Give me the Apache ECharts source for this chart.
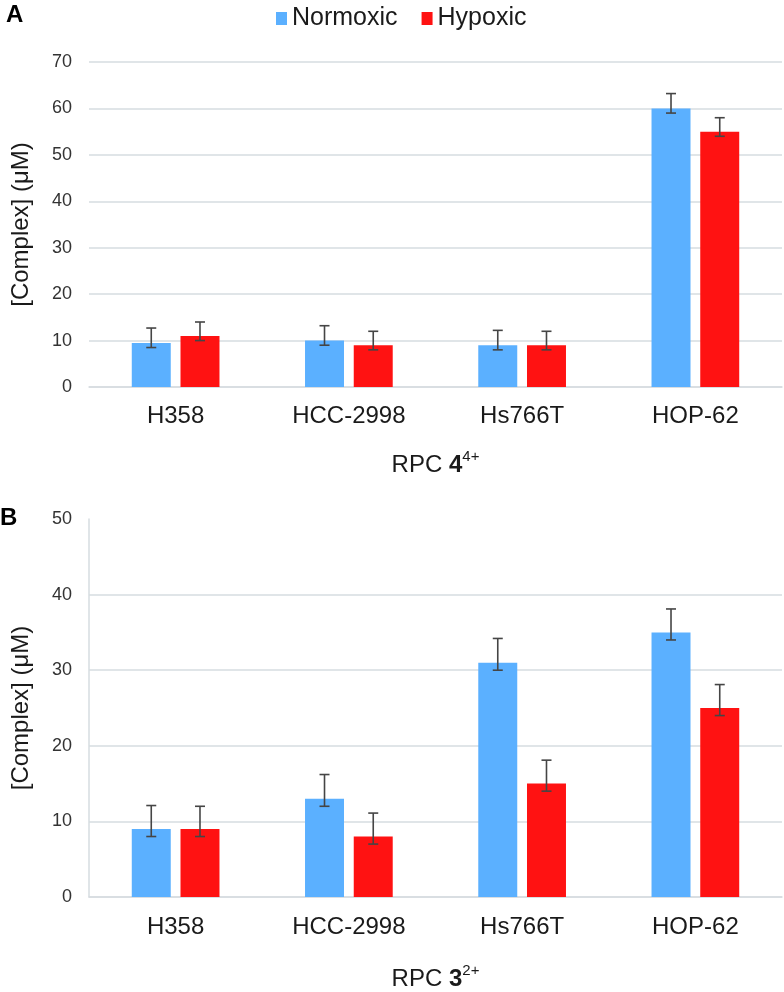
<!DOCTYPE html>
<html>
<head>
<meta charset="utf-8">
<script src="https://cdn.jsdelivr.net/npm/echarts@6/dist/echarts.min.js"></script>
<style>html,body{margin:0;padding:0;background:#fff;}#c{width:784px;height:992px;}</style>
</head>
<body>
<div id="c"></div>
<script>
const categories = ['H358', 'HCC-2998', 'Hs766T', 'HOP-62'];
const seriesNames = ['Normoxic', 'Hypoxic'];
const yTicksA = [0, 70, 10];
const yTicksB = [0, 50, 10];

// Panel A: RPC 4(4+)
const aNormoxic = [9.5, 10, 9, 60];
const aNormoxicLow = [8.5, 9, 8, 59];
const aNormoxicHigh = [12.7, 13.2, 12.2, 63.2];
const aHypoxic = [11, 9, 9, 55];
const aHypoxicLow = [10, 8, 8, 54];
const aHypoxicHigh = [14, 12, 12, 58];

// Panel B: RPC 3(2+)
const bNormoxic = [9, 13, 31, 35];
const bNormoxicLow = [8, 12, 30, 34];
const bNormoxicHigh = [12.1, 16.2, 34.2, 38.1];
const bHypoxic = [9, 8, 15, 25];
const bHypoxicLow = [8, 7, 14, 24];
const bHypoxicHigh = [12, 11.1, 18.1, 28.1];

const BLUE = '#5BB0FF';
const RED = '#FF1212';
const GRID = '#D6DCE0';
const FONT = 'Liberation Sans, Arial, sans-serif';
const BAR_W = 0.225, BAR_GAP = 0.25;
const OFF = BAR_W * (1 + BAR_GAP) / 2;

function errData(low, high) {
  return categories.map((c, i) => [i, low[i], high[i]]);
}
function errSeries(name, low, high, side, axisIdx) {
  return {
    type: 'custom', name: name, xAxisIndex: axisIdx, yAxisIndex: axisIdx, z: 5,
    data: errData(low, high),
    renderItem: function (params, api) {
      const band = api.size([1, 0])[0];
      const cx = api.coord([api.value(0), 0])[0] + side * OFF * band;
      const lo = api.coord([api.value(0), api.value(1)])[1];
      const hi = api.coord([api.value(0), api.value(2)])[1];
      const hw = 5;
      const st = { stroke: '#454545', lineWidth: 1.6 };
      return {
        type: 'group', children: [
          { type: 'line', shape: { x1: cx, y1: lo, x2: cx, y2: hi }, style: st },
          { type: 'line', shape: { x1: cx - hw, y1: lo, x2: cx + hw, y2: lo }, style: st },
          { type: 'line', shape: { x1: cx - hw, y1: hi, x2: cx + hw, y2: hi }, style: st }
        ]
      };
    }
  };
}
function barSeries(name, data, color, axisIdx) {
  return {
    type: 'bar', name: name, data: data, xAxisIndex: axisIdx, yAxisIndex: axisIdx,
    barWidth: (BAR_W * 100) + '%', barGap: (BAR_GAP * 100) + '%',
    itemStyle: { color: color }
  };
}
function xAxis(gridIndex, nameRich, gap, margin) {
  return {
    type: 'category', gridIndex: gridIndex, data: categories,
    axisLine: { show: true, lineStyle: { color: GRID, width: 1.5 } },
    axisTick: { show: false },
    axisLabel: { fontSize: 24, color: '#1a1a1a', fontFamily: FONT, margin: margin },
    name: nameRich, nameLocation: 'middle', nameGap: gap,
    nameTextStyle: {
      fontFamily: FONT, color: '#1a1a1a',
      rich: {
        n: { fontSize: 24, fontFamily: FONT, color: '#1a1a1a', lineHeight: 28, verticalAlign: 'bottom' },
        b: { fontSize: 24, fontWeight: 'bold', fontFamily: FONT, color: '#1a1a1a', lineHeight: 28, verticalAlign: 'bottom' },
        s: { fontSize: 15, fontFamily: FONT, color: '#1a1a1a', lineHeight: 28, verticalAlign: 'top', padding: [0, 0, 10, 0] }
      }
    }
  };
}
function yAxis(gridIndex, ticks, showLine, colors) {
  return {
    type: 'value', gridIndex: gridIndex, min: ticks[0], max: ticks[1], interval: ticks[2],
    axisLine: { show: showLine, lineStyle: { color: GRID, width: 1.5 } },
    axisTick: { show: false },
    axisLabel: { fontSize: 18, color: '#333', fontFamily: FONT, margin: 17 },
    splitLine: { show: true, lineStyle: { color: colors, width: 1.5 } },
    name: '[Complex] (\u03bcM)', nameLocation: 'middle', nameGap: 56,
    nameTextStyle: { fontSize: 24, color: '#1a1a1a', fontFamily: FONT }
  };
}

const chart = echarts.init(document.getElementById('c'));
chart.setOption({
  animation: false,
  backgroundColor: '#fff',
  legend: {
    data: seriesNames, top: 1, left: 271, icon: 'rect',
    itemWidth: 11, itemHeight: 13, itemGap: 24,
    textStyle: { fontSize: 25, color: '#1a1a1a', fontFamily: FONT }
  },
  graphic: [
    { type: 'text', left: 6, top: 3, style: { text: 'A', font: 'bold 24px Liberation Sans, Arial, sans-serif', fill: '#000' } },
    { type: 'text', left: 0, top: 506, style: { text: 'B', font: 'bold 24px Liberation Sans, Arial, sans-serif', fill: '#000' } }
  ],
  grid: [
    { left: 89, right: 2, top: 62, bottom: 605 },
    { left: 89, right: 2, top: 519, bottom: 94 }
  ],
  xAxis: [
    xAxis(0, '{n|RPC }{b|4}{s|4+}', 62, 17),
    xAxis(1, '{n|RPC }{b|3}{s|2+}', 66, 18)
  ],
  yAxis: [
    yAxis(0, yTicksA, false, GRID),
    yAxis(1, yTicksB, true, [GRID, GRID, GRID, GRID, GRID, 'rgba(0,0,0,0)'])
  ],
  series: [
    barSeries('Normoxic', aNormoxic, BLUE, 0),
    barSeries('Hypoxic', aHypoxic, RED, 0),
    errSeries('Normoxic', aNormoxicLow, aNormoxicHigh, -1, 0),
    errSeries('Hypoxic', aHypoxicLow, aHypoxicHigh, 1, 0),
    barSeries('Normoxic', bNormoxic, BLUE, 1),
    barSeries('Hypoxic', bHypoxic, RED, 1),
    errSeries('Normoxic', bNormoxicLow, bNormoxicHigh, -1, 1),
    errSeries('Hypoxic', bHypoxicLow, bHypoxicHigh, 1, 1)
  ]
});
</script>
</body>
</html>
